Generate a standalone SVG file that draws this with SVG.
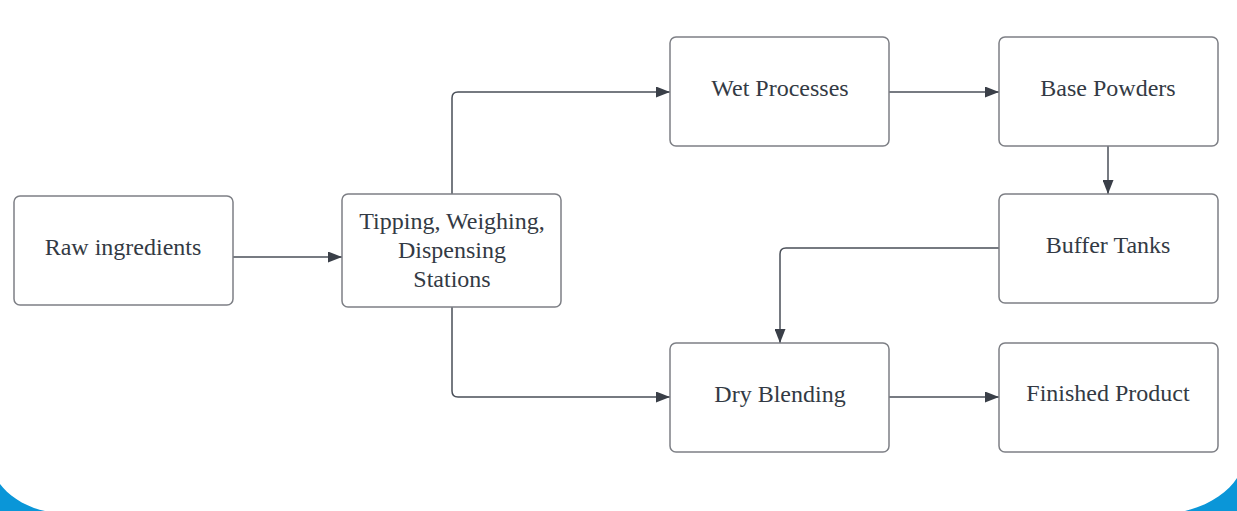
<svg xmlns="http://www.w3.org/2000/svg" width="1237" height="511" viewBox="0 0 1237 511">
<defs>
<style>
.box{fill:#fff;stroke:#7d7f85;stroke-width:1.5}
.lbl{font-family:"Liberation Serif","DejaVu Serif",serif;font-size:24px;fill:#333a44;text-anchor:middle}
.edge{fill:none;stroke:#4a4f58;stroke-width:1.5}
</style>
<marker id="arr" viewBox="0 0 14 11" refX="14" refY="5.5" markerWidth="14" markerHeight="11" markerUnits="userSpaceOnUse" orient="auto">
<path d="M0,0 L14,5.5 L0,11 Z" fill="#3a3f48"/>
</marker>
</defs>
<rect width="1237" height="511" fill="#fff"/>
<path d="M0,484 C8,495 25,507 45,511 L0,511 Z" fill="#0a96d8"/>
<path d="M1237,478 C1228,492 1210,505 1185,511 L1237,511 Z" fill="#0a96d8"/>
<g id="connectors">
<path class="edge" d="M233,257 H342" marker-end="url(#arr)"/>
<path class="edge" d="M452,194 V98 Q452,92 458,92 H670" marker-end="url(#arr)"/>
<path class="edge" d="M452,307 V391 Q452,397 458,397 H670" marker-end="url(#arr)"/>
<path class="edge" d="M889,92 H999" marker-end="url(#arr)"/>
<path class="edge" d="M1108,146 V194" marker-end="url(#arr)"/>
<path class="edge" d="M999,248 H786 Q780,248 780,254 V343" marker-end="url(#arr)"/>
<path class="edge" d="M889,397 H999" marker-end="url(#arr)"/>
</g>
<g id="raw"><rect class="box" x="14" y="196" width="219" height="109" rx="6"/><text class="lbl" x="123" y="255">Raw ingredients</text></g>
<g id="tipping"><rect class="box" x="342" y="194" width="219" height="113" rx="6"/><text class="lbl" x="452" y="229">Tipping, Weighing,</text><text class="lbl" x="452" y="258">Dispensing</text><text class="lbl" x="452" y="287">Stations</text></g>
<g id="wet"><rect class="box" x="670" y="37" width="219" height="109" rx="6"/><text class="lbl" x="780" y="96">Wet Processes</text></g>
<g id="base"><rect class="box" x="999" y="37" width="219" height="109" rx="6"/><text class="lbl" x="1108" y="96">Base Powders</text></g>
<g id="buffer"><rect class="box" x="999" y="194" width="219" height="109" rx="6"/><text class="lbl" x="1108" y="253">Buffer Tanks</text></g>
<g id="dry"><rect class="box" x="670" y="343" width="219" height="109" rx="6"/><text class="lbl" x="780" y="402">Dry Blending</text></g>
<g id="finished"><rect class="box" x="999" y="343" width="219" height="109" rx="6"/><text class="lbl" x="1108" y="401">Finished Product</text></g>
</svg>
